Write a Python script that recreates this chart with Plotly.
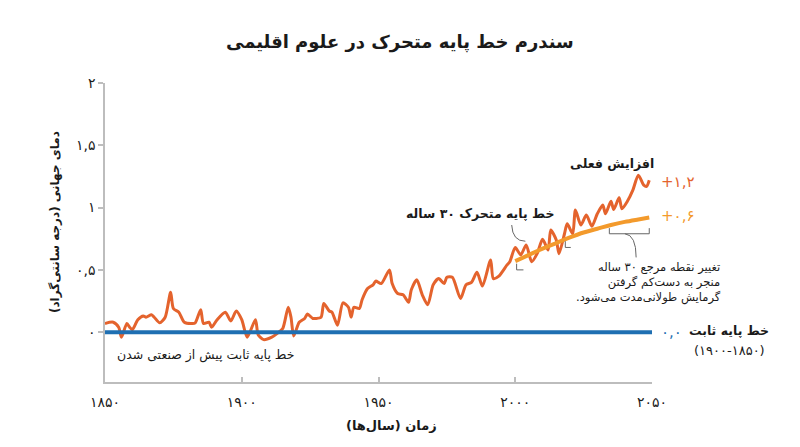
import plotly.graph_objects as go

# global temperature anomaly (°C)
years = [1850, 1853, 1855, 1856, 1858, 1859, 1860, 1862, 1864, 1865, 1867, 1868,
         1870, 1872, 1874, 1875, 1877, 1879, 1882, 1883, 1885, 1886, 1888, 1889,
         1891, 1894, 1896, 1898, 1900, 1902, 1905, 1906, 1908, 1911, 1913, 1915,
         1917, 1918, 1919, 1921, 1923, 1924, 1926, 1927, 1929, 1930, 1932, 1933,
         1935, 1937, 1939, 1940, 1941, 1943, 1944, 1946, 1948, 1949, 1951, 1954,
         1955, 1957, 1959, 1961, 1962, 1964, 1966, 1968, 1970, 1972, 1974, 1975,
         1977, 1980, 1982, 1984, 1986, 1988, 1991, 1992, 1994, 1997, 1998, 2000,
         2002, 2004, 2006, 2008, 2010, 2012, 2013, 2015, 2016, 2018, 2019, 2021,
         2022, 2024, 2026, 2028, 2030, 2032, 2033, 2035, 2036, 2038, 2039, 2041,
         2043, 2045, 2047, 2048, 2049]
temps = [0.07, 0.08, 0.04, -0.04, 0.07, 0.04, 0.02, 0.10, 0.13, 0.12, 0.14, 0.12,
         0.075, 0.12, 0.32, 0.19, 0.16, 0.08, 0.07, 0.075, 0.18, 0.07, 0.08, 0.04,
         0.10, 0.16, 0.09, 0.17, 0.10, -0.04, 0.10, -0.02, -0.06, -0.04, -0.01, 0.03,
         0.20, 0.12, -0.03, 0.08, 0.11, 0.145, 0.11, 0.11, 0.12, 0.23, 0.17, 0.16,
         0.056, 0.235, 0.20, 0.12, 0.20, 0.19, 0.26, 0.35, 0.38, 0.41, 0.39, 0.50,
         0.39, 0.31, 0.30, 0.24, 0.34, 0.42, 0.30, 0.22, 0.38, 0.43, 0.39, 0.44,
         0.44, 0.27, 0.38, 0.40, 0.48, 0.37, 0.58, 0.43, 0.45, 0.54, 0.565, 0.68,
         0.62, 0.70, 0.565, 0.63, 0.745, 0.66, 0.82, 0.74, 0.63, 0.79, 0.87, 0.79,
         0.98, 0.86, 0.94, 0.85, 0.95, 1.02, 0.95, 1.05, 0.985, 1.08, 0.99, 1.05,
         1.14, 1.26, 1.18, 1.17, 1.22]

# 30-year moving baseline
base_years = [2000, 2005, 2010, 2015, 2020, 2025, 2030, 2035, 2040, 2045, 2049]
base_vals = [0.57, 0.62, 0.67, 0.715, 0.76, 0.80, 0.83, 0.86, 0.885, 0.905, 0.92]

# fixed pre-industrial baseline
fixed_years = [1850, 2050]
fixed_vals = [0, 0]

x_ticks = [1850, 1900, 1950, 2000, 2050]
x_labels = ["۱۸۵۰", "۱۹۰۰", "۱۹۵۰", "۲۰۰۰", "۲۰۵۰"]
y_ticks = [0, 0.5, 1, 1.5, 2]
y_labels = ["۰", "۰,۵", "۱", "۱,۵", "۲"]

FONT = "DejaVu Sans"
DARK = "#1a1a1a"
ORANGE = "#e4632d"
LIGHT_ORANGE = "#f39a2c"
BLUE = "#1f6fb2"
GREY = "#bdbdbd"

fig = go.Figure()

fig.add_trace(go.Scatter(
    x=years, y=temps, mode="lines",
    line=dict(color=ORANGE, width=3, shape="spline", smoothing=0.7),
    showlegend=False, hoverinfo="skip",
))
fig.add_trace(go.Scatter(
    x=fixed_years, y=fixed_vals, mode="lines",
    line=dict(color=BLUE, width=4),
    showlegend=False, hoverinfo="skip",
))
fig.add_trace(go.Scatter(
    x=base_years, y=base_vals, mode="lines",
    line=dict(color=LIGHT_ORANGE, width=4, shape="spline"),
    showlegend=False, hoverinfo="skip",
))

# brackets and connector lines
line_style = dict(color="#666666", width=1)
fig.add_shape(type="path", xref="x", yref="y", line=line_style,
              path="M 2000.5,0.55 L 2000.5,0.50 L 2003,0.50")
fig.add_shape(type="path", xref="x", yref="y", line=line_style,
              path="M 2018.3,0.73 L 2018.3,0.68 L 2020.3,0.68")
fig.add_shape(type="path", xref="x", yref="y", line=line_style,
              path="M 2034.4,0.835 L 2034.4,0.79 L 2049,0.79 L 2049,0.835")
fig.add_shape(type="path", xref="x", yref="y", line=line_style,
              path="M 1998.7,0.86 Q 1999,0.73 2003.7,0.73")
fig.add_shape(type="path", xref="x", yref="y", line=line_style,
              path="M 2040.1,0.79 Q 2044.2,0.78 2044.2,0.60")


def note(x, y, text, size=14, color=DARK, bold=False, xanchor="center",
         align="center", ref="data", angle=0):
    if bold:
        text = "<b>" + text + "</b>"
    xr, yr = ("x", "y") if ref == "data" else ("paper", "paper")
    fig.add_annotation(x=x, y=y, xref=xr, yref=yr, text=text, showarrow=False,
                       xanchor=xanchor, yanchor="middle", align=align, textangle=angle,
                       font=dict(family=FONT, size=size, color=color))


note(2035.4, 1.35, "افزایش فعلی", size=12.5, bold=True)
note(1987.1, 0.955, "خط پایه متحرک ۳۰ ساله", size=12.5, bold=True)
note(1853.7, -0.185, "خط پایه ثابت پیش از صنعتی شدن", size=12.5, xanchor="left")

# labels to the right of the plot area (paper coordinates)
note(1.0128, 0.670, "+۱,۲", size=15, color=ORANGE, xanchor="left", ref="paper")
note(1.0128, 0.555, "+۰,۶", size=15, color=LIGHT_ORANGE, xanchor="left", ref="paper")
note(1.0128, 0.167, "۰,۰", size=15, color=BLUE, xanchor="left", ref="paper")
note(1.2176, 0.172, "خط پایه ثابت", size=12.5, bold=True, xanchor="right", ref="paper")
note(1.1408, 0.104, "(۱۹۰۰-۱۸۵۰)", size=13, ref="paper")
note(1.1298, 0.334,
     "تغییر نقطه مرجع ۳۰ ساله<br>منجر به دست‌کم گرفتن<br>گرمایش طولانی‌مدت می‌شود.\u200f",
     size=11.5, xanchor="right", align="right", ref="paper")

# axis titles
note(0.523, -0.144, "زمان (سال‌ها)", size=13, bold=True, ref="paper")
note(-0.0914, 0.535, "دمای جهانی (درجه سانتی‌گراد)", size=12, bold=True,
     ref="paper", angle=-90)

fig.update_layout(
    width=800, height=447,
    margin=dict(l=97, r=156, t=75, b=73),
    plot_bgcolor="white", paper_bgcolor="white",
    font=dict(family=FONT, color=DARK),
    title=dict(text="<b>سندرم خط پایه متحرک در علوم اقلیمی</b>",
               x=0.539, xref="paper", xanchor="center", y=0.925, yanchor="middle",
               font=dict(family=FONT, size=18, color=DARK)),
    xaxis=dict(range=[1850, 2050], showline=True, linecolor=GREY, linewidth=1.5,
               ticks="inside", ticklen=5, tickcolor=GREY, tickwidth=1.5,
               tickvals=x_ticks, ticktext=x_labels, showgrid=False, zeroline=False,
               tickfont=dict(family=FONT, size=14, color=DARK), ticklabelstandoff=6,
               automargin=False),
    yaxis=dict(range=[-0.4, 2], showline=True, linecolor=GREY, linewidth=1.5,
               ticks="outside", ticklen=5, tickcolor=GREY, tickwidth=1.5,
               tickvals=y_ticks, ticktext=y_labels, showgrid=False, zeroline=False,
               tickfont=dict(family=FONT, size=14, color=DARK), automargin=False),
)

fig.write_html("out.html")
